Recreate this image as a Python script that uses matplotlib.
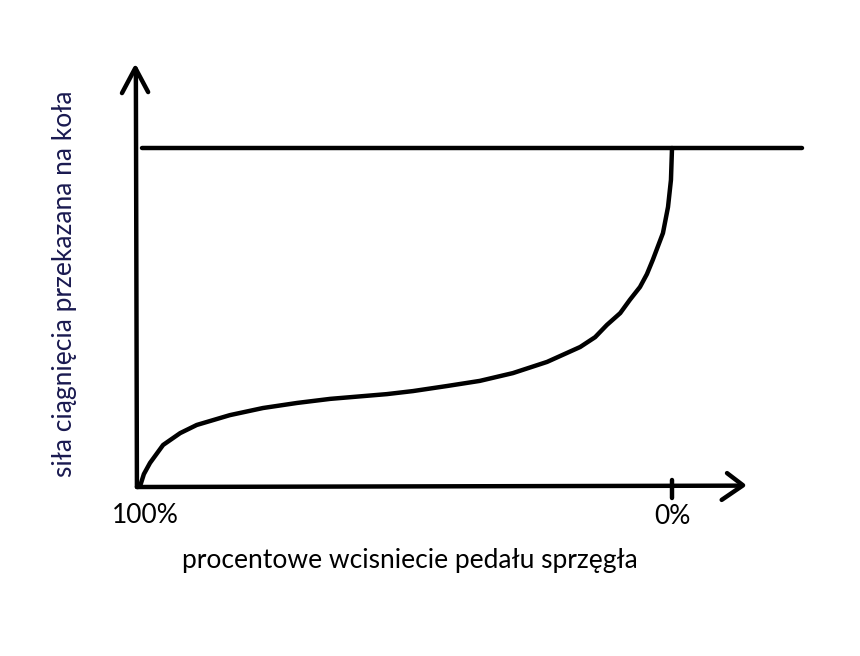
import matplotlib.pyplot as plt

# pedal depression in % (100 = fully pressed, 0 = released) and traction force
# transferred to the wheels, in % of the maximum
pedal = [100, 99.6, 98.9, 97.75, 95.3, 92.1, 89.0, 82.8, 76.6, 70.2, 64.0,
         53.4, 48.5, 42.1, 36.0, 29.8, 23.4, 17.2, 14.4, 12.2, 9.7, 7.9,
         6.0, 4.7, 3.6, 1.7, 0.75, 0.2, 0.0]
force = [0.0, 0.3, 3.8, 7.1, 12.4, 15.9, 18.3, 21.2, 23.3, 24.8, 26.0,
         27.4, 28.3, 29.8, 31.3, 33.6, 36.9, 41.3, 44.2, 47.8, 51.3, 55.2,
         59.0, 62.8, 67.0, 74.9, 82.6, 90.6, 100.0]

clutch_level = 100   # horizontal line = max force
x_labels = ["100%", "0%"]
x_title = "procentowe wcisniecie pedału sprzęgła"
y_title = "siła ciągnięcia przekazana na koła"

fig = plt.figure(figsize=(8.6, 6.56), dpi=100)
ax = fig.add_axes([0, 0, 1, 1])
# 1 % of pedal = 5.34 px, 1 unit of force = 3.39 px
ax.set_xlim(125.84, -35.2)
ax.set_ylim(-49.85, 143.66)
ax.axis("off")

lw = 3.2
ink = "black"
rnd = dict(solid_capstyle="round", solid_joinstyle="round")

# axes drawn by hand, with arrow heads
ax.plot([100.2, 100.4], [0, 123.3], color=ink, lw=lw, **rnd)
ax.plot([103.0, 100.5, 98.1], [116.2, 123.6, 116.5], color=ink, lw=lw, **rnd)
ax.plot([100.2, -13.0], [0, 0.4], color=ink, lw=lw, **rnd)
ax.plot([-10.3, -13.3, -9.3], [4.1, 0.5, -3.8], color=ink, lw=lw, **rnd)
# tick at 0 %
ax.plot([0, 0], [2.0, -3.3], color=ink, lw=lw, **rnd)

# max force line
ax.plot([99.3, -24.3], [clutch_level, clutch_level], color=ink, lw=lw, **rnd)

# transmitted force curve
ax.plot(pedal, force, color=ink, lw=lw, **rnd)

font = ["Lato", "DejaVu Sans"]
ax.text(98.6, -8.3, x_labels[0], ha="center", va="center", fontsize=19,
        family=font, color="black")
ax.text(0, -8.8, x_labels[1], ha="center", va="center", fontsize=19,
        family=font, color="black")
ax.text(49.1, -21.6, x_title, ha="center", va="center", fontsize=19,
        family=font, color="black")
ax.text(113.8, 60.0, y_title, ha="center", va="center", rotation=90,
        fontsize=19, family=font, color="#1a1a50")

fig.savefig("out.png", dpi=100)
